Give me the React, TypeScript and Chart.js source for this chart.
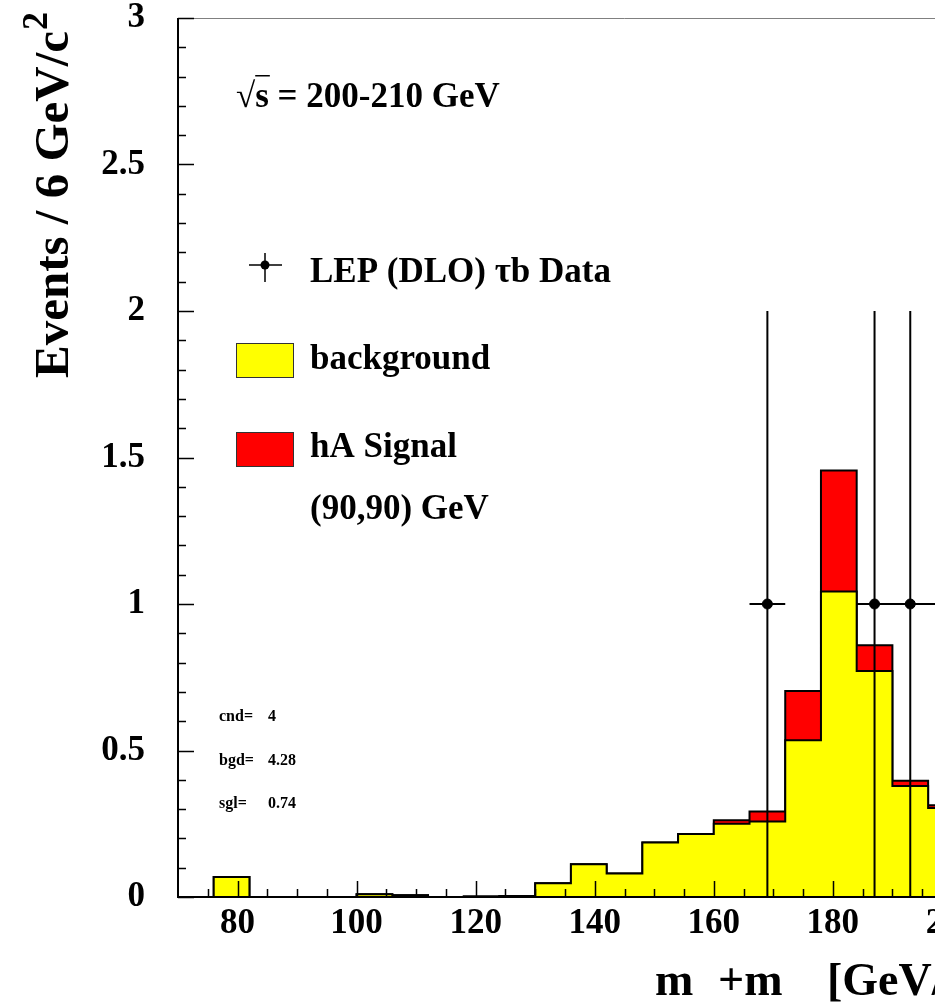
import React, { useEffect, useRef } from "react";
import { Chart, registerables } from "chart.js";

Chart.register(...registerables);

// ---- data ----
const binEdges = [70, 76, 82, 88, 94, 100, 106, 112, 118, 124, 130, 136, 142, 148, 154, 160, 166, 172, 178, 184, 190, 196, 202, 208];
const backgroundValues = [0, 0.068, 0, 0, 0, 0.009, 0.006, 0, 0.002, 0.003, 0.047, 0.112, 0.08, 0.186, 0.215, 0.25, 0.258, 0.535, 1.043, 0.771, 0.379, 0.304, 0.01];
const signalValues = [0, 0, 0, 0, 0, 0, 0, 0, 0, 0, 0, 0, 0, 0, 0, 0.012, 0.034, 0.168, 0.413, 0.088, 0.018, 0.009, 0];
const dataX = [169, 187, 193, 199];
const dataY = [1, 1, 1, 1];
const dataXErr = [3, 3, 3, 3];
const dataYErr = [1, 1, 1, 1];
const xTickValues = [80, 100, 120, 140, 160, 180, 200, 220];
const yTickValues = [0, 0.5, 1, 1.5, 2, 2.5, 3];
const xMinorStep = 5;
const xMajorStep = 20;
const yMinorStep = 0.1;
const yMajorStep = 0.5;
const statLabels = ["cnd=", "bgd=", "sgl="];
const statValues = ["4", "4.28", "0.74"];

const FONT = '"Liberation Serif", "Times New Roman", serif';

function histPoints(vals: number[]) {
  const pts = vals.map((v, i) => ({ x: binEdges[i], y: v }));
  pts.push({ x: binEdges[vals.length], y: 0 });
  return pts;
}

const decorPlugin = {
  id: "decor",
  afterDatasetsDraw(chart: any) {
    const ctx: CanvasRenderingContext2D = chart.ctx;
    const xs = chart.scales.x;
    const ys = chart.scales.y;
    const a = chart.chartArea;
    ctx.save();

    // frame (top / right in grey)
    ctx.strokeStyle = "#808080";
    ctx.lineWidth = 1;
    ctx.beginPath();
    ctx.moveTo(a.left, a.top + 0.5);
    ctx.lineTo(a.right - 0.5, a.top + 0.5);
    ctx.lineTo(a.right - 0.5, a.bottom);
    ctx.stroke();

    // axes
    ctx.strokeStyle = "#000";
    ctx.lineWidth = 2;
    ctx.beginPath();
    ctx.moveTo(a.left, a.top);
    ctx.lineTo(a.left, a.bottom);
    ctx.lineTo(a.right, a.bottom);
    ctx.stroke();

    // ticks
    ctx.lineWidth = 1.5;
    ctx.beginPath();
    const nY = Math.round((ys.max - ys.min) / yMinorStep);
    for (let i = 0; i <= nY; i++) {
      const v = ys.min + i * yMinorStep;
      const py = Math.round(ys.getPixelForValue(v)) + 0.5;
      const major = Math.abs(v / yMajorStep - Math.round(v / yMajorStep)) < 1e-6;
      ctx.moveTo(a.left, py);
      ctx.lineTo(a.left + (major ? 16 : 8), py);
    }
    const nX = Math.round((xs.max - xs.min) / xMinorStep);
    for (let i = 1; i <= nX; i++) {
      const v = xs.min + i * xMinorStep;
      const px = Math.round(xs.getPixelForValue(v)) + 0.5;
      const major = (v - xTickValues[0]) % xMajorStep === 0;
      ctx.moveTo(px, a.bottom);
      ctx.lineTo(px, a.bottom - (major ? 16 : 8));
    }
    ctx.stroke();

    // data error bars
    ctx.lineWidth = 2;
    ctx.beginPath();
    for (let i = 0; i < dataX.length; i++) {
      const px = xs.getPixelForValue(dataX[i]);
      const py = ys.getPixelForValue(dataY[i]);
      ctx.moveTo(xs.getPixelForValue(dataX[i] - dataXErr[i]), py);
      ctx.lineTo(xs.getPixelForValue(dataX[i] + dataXErr[i]), py);
      ctx.moveTo(px, ys.getPixelForValue(Math.max(0, dataY[i] - dataYErr[i])));
      ctx.lineTo(px, ys.getPixelForValue(dataY[i] + dataYErr[i]));
    }
    ctx.stroke();

    ctx.fillStyle = "#000";
    ctx.textAlign = "left";
    ctx.textBaseline = "alphabetic";

    // y-axis title
    ctx.save();
    ctx.translate(68, 378);
    ctx.rotate(-Math.PI / 2);
    ctx.font = `bold 49px ${FONT}`;
    const yt = "Events / 6 GeV/c";
    ctx.fillText(yt, 0, 0);
    const ytw = ctx.measureText(yt).width;
    ctx.font = `bold 36px ${FONT}`;
    ctx.fillText("2", ytw + 1, -21);
    ctx.restore();

    // x-axis title
    ctx.font = `bold 46px ${FONT}`;
    ctx.fillText("m", 655, 995);
    ctx.fillText("+m", 718, 995);
    ctx.fillText("[GeV/c", 827, 995);
    const xtw = ctx.measureText("[GeV/c").width;
    ctx.font = `bold 32px ${FONT}`;
    ctx.fillText("2", 827 + xtw + 1, 975);
    const sw = ctx.measureText("2").width;
    ctx.font = `bold 46px ${FONT}`;
    ctx.fillText("]", 827 + xtw + sw + 3, 995);

    // sqrt(s) label
    ctx.font = `35px ${FONT}`;
    ctx.fillText("\u221A", 236, 107);
    const rw = ctx.measureText("\u221A").width;
    ctx.font = `bold 35px ${FONT}`;
    const sx = 236 + rw;
    ctx.fillText("s", sx, 107);
    const sWidth = ctx.measureText("s").width;
    ctx.fillRect(sx, 75, sWidth + 1, 1.5);
    ctx.fillText(" = 200-210 GeV", sx + sWidth, 107);

    // legend
    ctx.lineWidth = 1.5;
    ctx.beginPath();
    ctx.moveTo(249, 265);
    ctx.lineTo(282, 265);
    ctx.moveTo(265, 253);
    ctx.lineTo(265, 282);
    ctx.stroke();
    ctx.beginPath();
    ctx.arc(265, 265, 4.5, 0, Math.PI * 2);
    ctx.fill();
    ctx.font = `bold 35px ${FONT}`;
    ctx.fillText("LEP (DLO) \u03C4b Data", 310, 282);

    ctx.lineWidth = 1;
    ctx.fillStyle = "#ffff00";
    ctx.fillRect(236, 343, 58, 35);
    ctx.strokeStyle = "#333";
    ctx.strokeRect(236.5, 343.5, 57, 34);
    ctx.fillStyle = "#ff0000";
    ctx.fillRect(236, 432, 58, 35);
    ctx.strokeRect(236.5, 432.5, 57, 34);
    ctx.fillStyle = "#000";
    ctx.fillText("background", 310, 369);
    ctx.fillText("hA Signal", 310, 457);
    ctx.fillText("(90,90) GeV", 310, 519);

    // stats
    ctx.font = `bold 16px ${FONT}`;
    const statY = [721, 765, 808];
    for (let i = 0; i < statLabels.length; i++) {
      ctx.fillText(statLabels[i], 219, statY[i]);
      ctx.fillText(statValues[i], 268, statY[i]);
    }

    ctx.restore();
  },
};

export default function App() {
  const ref = useRef<HTMLCanvasElement | null>(null);

  useEffect(() => {
    if (!ref.current) return;
    const total = backgroundValues.map((v, i) => v + signalValues[i]);
    const chart = new Chart(ref.current, {
      type: "line",
      data: {
        datasets: [
          {
            label: "hA Signal",
            data: histPoints(total),
            stepped: "before",
            fill: "origin",
            backgroundColor: "#ff0000",
            borderColor: "#000",
            borderWidth: 2,
            pointRadius: 0,
            order: 3,
          } as any,
          {
            label: "background",
            data: histPoints(backgroundValues),
            stepped: "before",
            fill: "origin",
            backgroundColor: "#ffff00",
            borderColor: "#000",
            borderWidth: 2,
            pointRadius: 0,
            order: 2,
          } as any,
          {
            type: "scatter",
            label: "LEP (DLO) \u03C4b Data",
            data: dataX.map((x, i) => ({ x, y: dataY[i] })),
            pointRadius: 5,
            pointBackgroundColor: "#000",
            pointBorderColor: "#000",
            showLine: false,
            order: 1,
          } as any,
        ],
      },
      options: {
        responsive: false,
        animation: false,
        devicePixelRatio: 1,
        layout: { padding: { left: 0, top: 18, right: 1100 - 1071, bottom: 0 } },
        plugins: { legend: { display: false }, tooltip: { enabled: false } },
        scales: {
          x: {
            type: "linear",
            min: 70,
            max: 220,
            afterBuildTicks: (s: any) => {
              s.ticks = xTickValues.map((v) => ({ value: v }));
            },
            afterFit: (s: any) => {
              s.height = 108;
              s.paddingLeft = 0;
              s.paddingRight = 0;
              s.paddingTop = 0;
              s.paddingBottom = 0;
            },
            grid: { display: false, drawTicks: false },
            border: { display: false },
            ticks: {
              autoSkip: false,
              maxRotation: 0,
              padding: 6,
              color: "#000",
              font: { family: FONT, weight: "bold", size: 35 },
              callback: (v: any) => String(v),
            },
          },
          y: {
            type: "linear",
            min: 0,
            max: 3,
            afterBuildTicks: (s: any) => {
              s.ticks = yTickValues.map((v) => ({ value: v }));
            },
            afterFit: (s: any) => {
              s.width = 178;
              s.paddingLeft = 0;
              s.paddingRight = 0;
              s.paddingTop = 0;
              s.paddingBottom = 0;
            },
            grid: { display: false, drawTicks: false },
            border: { display: false },
            ticks: {
              autoSkip: false,
              padding: 33,
              color: "#000",
              font: { family: FONT, weight: "bold", size: 35 },
              callback: (v: any) => String(v),
            },
          },
        },
      } as any,
      plugins: [decorPlugin],
    });
    return () => chart.destroy();
  }, []);

  return (
    <div
      style={{
        position: "fixed",
        left: 0,
        top: 0,
        width: 935,
        height: 1005,
        overflow: "hidden",
        background: "#fff",
      }}
    >
      <canvas ref={ref} width={1100} height={1005} style={{ width: 1100, height: 1005, display: "block" }} />
    </div>
  );
}
